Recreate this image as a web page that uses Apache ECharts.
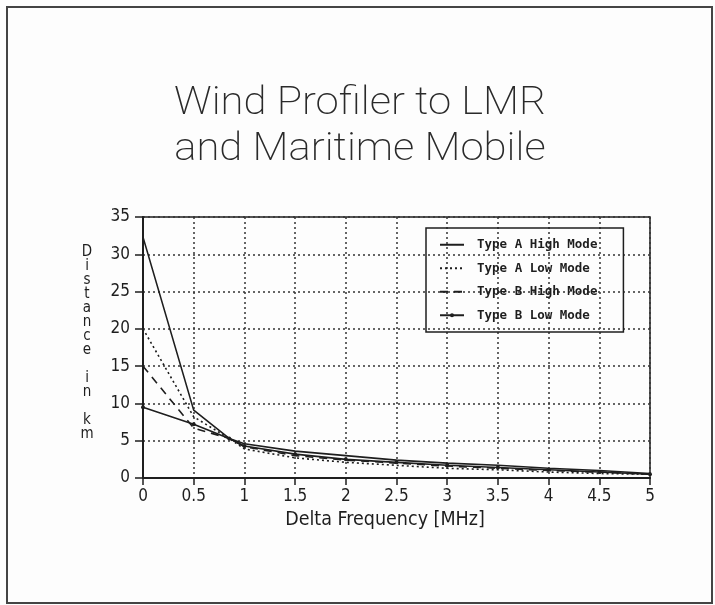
<!DOCTYPE html>
<html>
<head>
<meta charset="utf-8">
<script src="https://cdn.jsdelivr.net/npm/echarts@6/dist/echarts.min.js"></script>
<style>
html,body{margin:0;padding:0;background:#fff;}
#chart{width:715px;height:605px;}
</style>
</head>
<body>
<div id="chart"></div>
<script>
// Delta frequency (MHz)
const freqs = [0, 0.5, 0.85, 1, 1.5, 2, 2.5, 3, 3.5, 4, 4.5, 5];
// Distance in km
const typeAHigh = [32.3, 9.1, 5.3, 4.6, 3.6, 3.0, 2.4, 2.0, 1.7, 1.3, 1.0, 0.6];
const typeALow  = [20.0, 8.2, 5.3, 3.9, 2.7, 2.1, 1.7, 1.3, 1.1, 0.8, 0.6, 0.5];
const typeBHigh = [15.0, 6.7, 5.3, 4.2, 3.0, 2.4, 2.0, 1.6, 1.3, 1.0, 0.8, 0.5];
const typeBLow  = [9.5, 7.2, 5.3, 4.3, 3.2, 2.5, 2.1, 1.7, 1.4, 1.1, 0.8, 0.5];
const seriesNames = ['Type A High Mode', 'Type A Low Mode', 'Type B High Mode', 'Type B Low Mode'];
const titleLines = ['Wind Profiler to LMR', 'and Maritime Mobile'];
const xName = 'Delta Frequency [MHz]';
const yName = 'Distance in km';

const pair = arr => freqs.map((f, i) => [f, arr[i]]);
const ink = '#1e1e1e';
const mono = '"DejaVu Sans Mono", monospace';
const narrow = '"Liberation Sans Narrow", "DejaVu Sans Condensed", sans-serif';

const titleText = (txt, y) => ({
  type: 'text', x: 360, y: y, scaleX: 1.1, silent: true,
  style: {
    text: txt, x: 0, y: 0,
    fontFamily: 'Roboto', fontWeight: 200, fontSize: 38,
    fill: '#2a2a2a',
    align: 'center', verticalAlign: 'middle',
    textAlign: 'center', textVerticalAlign: 'middle'
  }
});

const noMark = {color: 'rgba(0,0,0,0)', borderWidth: 0};

const chart = echarts.init(document.getElementById('chart'));
chart.setOption({
  backgroundColor: '#fdfdfd',
  animation: false,
  graphic: [{
    type: 'rect',
    shape: {x: 7, y: 7, width: 705, height: 596},
    style: {fill: 'none', stroke: '#444', lineWidth: 2},
    silent: true
  },
  titleText(titleLines[0], 104),
  titleText(titleLines[1], 150),
  {
    type: 'text', x: 87, y: 343, silent: true,
    style: {
      text: yName.split('').map(c => c === ' ' ? '' : c).join('\n'),
      font: '15px ' + narrow,
      fill: ink,
      lineHeight: 14,
      align: 'center', verticalAlign: 'middle',
      textAlign: 'center', textVerticalAlign: 'middle'
    }
  }, {
    type: 'text', x: 385, y: 520, silent: true,
    style: {
      text: xName,
      font: '19.5px ' + narrow,
      fill: ink,
      align: 'center', verticalAlign: 'middle',
      textAlign: 'center', textVerticalAlign: 'middle'
    }
  }],
  legend: {
    data: [
      {name: seriesNames[0], itemStyle: noMark},
      {name: seriesNames[1], itemStyle: noMark},
      {name: seriesNames[2], itemStyle: noMark},
      {name: seriesNames[3]}
    ],
    orient: 'vertical',
    left: 426,
    top: 228,
    padding: [10, 26, 10, 13],
    itemGap: 10,
    itemWidth: 24,
    itemHeight: 5,
    borderColor: ink,
    borderWidth: 1.5,
    textStyle: {fontFamily: mono, fontSize: 12.5, color: ink, fontWeight: 'bold',
      padding: [0, 0, 0, 8], lineHeight: 13.5}
  },
  grid: {
    left: 143, right: 65, top: 217, bottom: 127,
    show: true, borderColor: ink, borderWidth: 1.5, backgroundColor: 'transparent'
  },
  xAxis: {
    type: 'value', min: 0, max: 5, interval: 0.5,
    axisLine: {lineStyle: {color: ink, width: 2}},
    axisTick: {show: true, length: 7, lineStyle: {color: ink, width: 1.5}},
    axisLabel: {fontFamily: narrow, fontSize: 17, color: ink, margin: 10},
    splitLine: {show: true, lineStyle: {color: '#333', width: 1.5, type: [2, 3]}}
  },
  yAxis: {
    type: 'value', min: 0, max: 35, interval: 5,
    axisLine: {show: true, lineStyle: {color: ink, width: 2}},
    axisTick: {show: true, length: 8, lineStyle: {color: ink, width: 1.5}},
    axisLabel: {fontFamily: narrow, fontSize: 17, color: ink, margin: 13},
    splitLine: {show: true, lineStyle: {color: '#333', width: 1.5, type: [2, 3]}}
  },
  series: [{
    name: seriesNames[0], type: 'line', data: pair(typeAHigh),
    showSymbol: false, symbol: 'none',
    lineStyle: {color: ink, width: 1.6, type: 'solid'}, itemStyle: {color: ink}
  }, {
    name: seriesNames[1], type: 'line', data: pair(typeALow),
    showSymbol: false, symbol: 'none',
    lineStyle: {color: ink, width: 1.6, type: [2, 3]}, itemStyle: {color: ink}
  }, {
    name: seriesNames[2], type: 'line', data: pair(typeBHigh),
    showSymbol: false, symbol: 'none',
    lineStyle: {color: ink, width: 1.6, type: [8, 6]}, itemStyle: {color: ink}
  }, {
    name: seriesNames[3], type: 'line', data: pair(typeBLow),
    symbol: 'circle', symbolSize: 4,
    lineStyle: {color: ink, width: 1.6, type: 'solid'}, itemStyle: {color: ink}
  }]
});
</script>
</body>
</html>
